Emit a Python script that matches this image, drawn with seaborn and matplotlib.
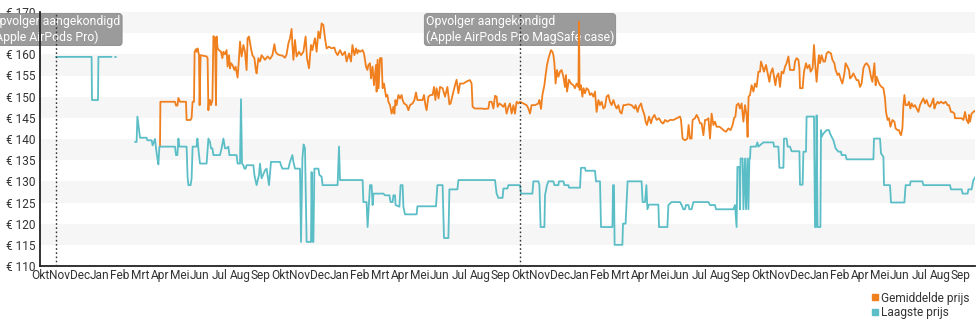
import numpy as np
import pandas as pd
import matplotlib
matplotlib.use("Agg")
import matplotlib.pyplot as plt
from matplotlib.lines import Line2D
import seaborn as sns

# Month tick labels (one tick per month, Okt .. Sep, four seasons)
maanden = (["Okt", "Nov", "Dec", "Jan", "Feb", "Mrt", "Apr", "Mei", "Jun", "Jul", "Aug", "Sep"] * 3
           + ["Okt", "Nov", "Dec", "Jan", "Feb", "Apr", "Mei", "Jun", "Jul", "Aug", "Sep"])
prijs_ticks = [110, 115, 120, 125, 130, 135, 140, 145, 150, 155, 160, 165, 170]

# Annotated events: (month position, label)
gebeurtenissen = [
    (0.8, "Opvolger aangekondigd\n(Apple AirPods Pro)"),
    (24.0, "Opvolger aangekondigd\n(Apple AirPods Pro MagSafe case)"),
]

# Laagste prijs, per continuous stretch: (month position, price in euro)
laagste_deel1 = [(0.80, 159.4), (2.58, 159.4), (2.60, 149.2), (2.90, 149.2), (2.92, 159.4), (3.58, 159.4)]
laagste_deel2 = [(3.75, 159.4), (3.80, 159.4)]
laagste_deel3 = [
    (4.75, 139.3), (4.83, 139.3), (4.87, 145.3), (4.92, 143.3), (5.00, 140.3), (5.33, 140.3),
    (5.37, 139.7), (5.58, 139.7), (5.63, 138.5), (5.75, 140.0), (5.80, 137.8), (5.87, 135.4),
    (5.92, 134.0), (5.97, 138.2), (6.75, 138.2), (6.80, 136.2), (6.87, 136.2), (6.92, 140.1),
    (6.97, 138.2), (7.33, 138.2), (7.38, 131.0), (7.42, 129.1), (7.53, 129.1), (7.58, 130.7),
    (7.63, 138.2), (7.83, 138.2), (7.87, 140.1), (7.95, 136.2), (8.00, 134.2), (8.33, 134.2),
    (8.42, 140.1), (8.50, 139.3), (8.55, 137.8), (8.62, 137.8), (8.67, 136.2), (9.00, 136.2),
    (9.08, 137.8), (9.17, 140.1), (9.25, 137.8), (9.33, 137.8), (9.42, 138.2), (9.47, 136.2),
    (9.83, 136.2), (9.88, 134.2), (10.00, 134.2), (10.05, 149.4), (10.10, 134.2), (10.17, 133.8),
    (10.22, 133.0), (10.28, 133.0), (10.33, 133.8), (10.67, 133.8), (10.72, 131.5), (10.83, 129.1),
    (10.95, 131.5), (11.00, 134.2), (11.08, 130.7), (11.25, 132.6), (11.33, 133.0), (11.45, 129.1),
    (11.55, 134.6), (12.00, 134.6), (12.05, 133.8), (12.12, 133.0), (12.42, 133.0), (12.50, 134.6),
    (12.62, 136.2), (12.67, 134.6), (12.75, 133.0), (13.00, 133.0), (13.05, 115.7), (13.12, 135.4),
    (13.18, 138.7), (13.25, 137.8), (13.33, 115.7), (13.55, 115.7), (13.58, 132.2), (13.62, 115.7),
    (13.67, 115.7), (13.72, 133.0), (13.92, 133.0), (13.97, 131.5), (14.08, 131.1), (14.13, 129.1),
    (14.88, 129.1), (14.95, 138.2), (15.00, 130.3), (16.13, 130.3), (16.17, 125.1), (16.33, 125.1),
    (16.38, 119.2), (16.45, 125.1), (16.50, 129.1), (16.58, 129.1), (16.63, 124.4), (16.67, 127.1),
    (17.17, 127.1), (17.25, 126.7), (17.47, 126.7), (17.53, 125.1), (17.63, 125.1), (17.67, 126.7),
    (17.75, 126.7), (17.78, 124.4), (17.97, 124.0), (18.03, 129.1), (18.13, 129.1), (18.17, 124.0),
    (18.25, 122.2), (18.83, 122.2), (18.87, 124.1), (19.80, 124.1), (19.87, 129.1), (20.13, 129.1),
    (20.20, 116.6), (20.42, 116.6), (20.47, 128.1), (20.87, 128.1), (20.92, 130.3), (22.75, 130.3),
    (22.83, 127.1), (22.92, 126.1), (23.13, 126.1), (23.17, 128.3), (23.37, 128.3), (23.42, 129.1),
    (24.00, 129.1), (24.05, 127.1), (24.62, 127.1), (24.67, 130.0), (24.92, 130.0), (24.97, 129.1),
    (25.03, 119.2), (25.22, 119.2), (25.25, 126.7), (25.30, 127.9), (25.35, 129.1), (25.42, 130.0),
    (25.67, 130.0), (25.72, 129.1), (25.92, 129.1), (25.95, 130.0), (26.17, 130.0), (26.22, 129.1),
    (26.42, 129.1), (26.45, 128.5), (27.00, 128.5), (27.05, 133.2), (27.25, 133.2), (27.28, 132.5),
    (27.75, 132.5), (27.80, 130.0), (28.00, 130.0), (28.05, 119.2), (28.62, 119.2), (28.65, 129.1),
    (28.70, 129.1), (28.73, 115.0), (29.12, 115.0), (29.15, 120.0), (29.28, 120.0), (29.38, 130.0),
    (30.08, 130.0), (30.13, 125.1), (30.25, 125.1), (30.32, 129.1), (30.37, 123.4), (30.45, 124.5),
    (30.92, 124.5), (30.95, 119.2), (31.37, 119.2), (31.42, 124.4), (31.58, 125.1), (32.00, 125.1),
    (32.08, 124.4), (32.17, 123.4), (32.25, 123.4), (32.30, 124.4), (32.42, 124.4), (32.47, 123.4),
    (32.58, 123.4), (32.63, 124.4), (32.67, 125.1), (33.42, 125.1), (33.50, 124.4), (33.75, 124.4),
    (33.80, 123.4), (34.67, 123.4), (34.75, 124.4), (34.83, 119.2), (34.87, 133.4), (34.97, 133.4),
    (35.00, 123.4), (35.03, 135.4), (35.13, 135.4), (35.17, 123.4), (35.25, 135.4), (35.30, 123.4),
    (35.37, 135.4), (35.42, 123.4), (35.47, 135.4), (35.50, 135.4), (35.53, 138.2), (35.80, 138.2),
    (35.87, 139.2), (35.92, 138.2), (36.17, 139.2), (36.67, 139.2), (36.70, 138.2), (36.92, 138.2),
    (36.97, 133.2), (37.17, 133.2), (37.20, 140.1), (37.33, 140.1), (37.38, 138.2), (37.50, 138.2),
    (37.58, 137.1), (37.97, 137.1), (38.00, 129.2), (38.13, 129.2), (38.17, 137.0), (38.30, 137.0),
    (38.33, 145.3), (38.70, 145.3), (38.75, 119.2), (38.80, 119.2), (38.83, 145.6), (38.88, 119.2),
    (39.02, 119.2), (39.05, 142.1), (39.08, 140.5), (39.17, 141.3), (39.33, 142.1), (39.45, 142.1),
    (39.50, 141.3), (39.67, 139.7), (39.78, 137.8), (39.92, 137.0), (40.05, 137.0), (40.08, 136.2),
    (40.28, 136.2), (40.33, 135.2), (41.67, 135.2), (41.70, 140.1), (42.00, 140.1), (42.05, 136.6),
    (42.17, 135.8), (42.20, 129.1), (42.50, 129.1), (42.55, 125.0), (43.22, 125.0), (43.28, 129.1),
    (43.50, 129.1), (43.53, 130.0), (44.12, 130.0), (44.17, 129.1), (45.50, 129.1), (45.55, 128.1),
    (46.08, 128.1), (46.13, 127.1), (46.38, 127.1), (46.42, 128.1), (46.58, 128.1), (46.67, 130.3),
    (46.78, 131.1),
]

# Gemiddelde prijs: (month position, price in euro)
gemiddelde = [
    (6.00, 138.2), (6.02, 148.8), (6.75, 148.8), (6.80, 147.9), (6.87, 147.9), (6.92, 149.7),
    (7.00, 148.8), (7.30, 148.8), (7.33, 144.5), (7.53, 144.5), (7.58, 145.0), (7.63, 148.8),
    (7.70, 148.8), (7.73, 160.6), (7.80, 161.2), (7.83, 160.6), (7.88, 161.4), (7.95, 159.8),
    (7.98, 148.0), (8.03, 159.8), (8.33, 159.5), (8.38, 159.1), (8.42, 146.8), (8.45, 149.2),
    (8.50, 149.2), (8.55, 148.0), (8.62, 149.2), (8.67, 164.3), (8.75, 163.8), (8.80, 148.0),
    (8.83, 164.2), (8.88, 161.4), (8.95, 161.0), (9.05, 160.6), (9.12, 159.1), (9.17, 160.6),
    (9.25, 160.0), (9.33, 161.0), (9.38, 157.1), (9.45, 159.8), (9.50, 156.7), (9.55, 157.9),
    (9.62, 157.5), (9.72, 156.3), (9.78, 157.1), (9.88, 154.5), (9.95, 159.1), (10.00, 163.0),
    (10.08, 159.5), (10.17, 162.2), (10.25, 160.6), (10.33, 156.3), (10.38, 163.8), (10.45, 164.2),
    (10.55, 161.4), (10.62, 159.8), (10.72, 159.1), (10.78, 156.7), (10.83, 155.5), (10.92, 159.1),
    (11.00, 158.3), (11.08, 159.8), (11.25, 158.7), (11.38, 159.5), (11.50, 158.9), (11.62, 159.8),
    (11.72, 162.4), (11.78, 160.6), (11.88, 160.0), (12.00, 159.8), (12.12, 159.7), (12.25, 159.2),
    (12.33, 160.0), (12.42, 162.6), (12.50, 163.8), (12.58, 166.0), (12.62, 162.2), (12.67, 158.7),
    (12.75, 163.4), (12.83, 159.5), (12.95, 160.6), (13.05, 159.8), (13.17, 160.6), (13.28, 164.2),
    (13.35, 159.1), (13.45, 156.7), (13.55, 162.2), (13.62, 161.0), (13.67, 162.2), (13.75, 163.8),
    (13.83, 160.6), (13.92, 165.4), (14.00, 163.8), (14.08, 167.3), (14.17, 166.9), (14.25, 163.8),
    (14.33, 161.4), (14.45, 161.8), (14.58, 161.4), (14.72, 161.6), (14.78, 160.6), (14.88, 159.8),
    (15.00, 161.0), (15.12, 159.8), (15.25, 160.6), (15.33, 158.3), (15.45, 160.2), (15.55, 158.3),
    (15.62, 162.2), (15.72, 159.8), (15.80, 161.4), (15.87, 160.2), (15.92, 161.0), (16.00, 160.6),
    (16.13, 161.0), (16.20, 160.2), (16.30, 157.1), (16.37, 156.3), (16.42, 157.5), (16.50, 157.9),
    (16.55, 154.3), (16.63, 157.1), (16.70, 152.7), (16.80, 157.5), (16.83, 151.2), (16.88, 158.7),
    (16.93, 152.0), (17.00, 159.1), (17.08, 159.1), (17.13, 152.0), (17.20, 153.1), (17.30, 150.0),
    (17.37, 150.4), (17.42, 148.8), (17.50, 148.0), (17.58, 146.0), (17.67, 147.6), (17.72, 146.0),
    (17.77, 149.2), (17.83, 148.0), (17.92, 150.4), (18.00, 149.6), (18.08, 150.4), (18.13, 149.2),
    (18.20, 148.4), (18.33, 148.0), (18.42, 146.8), (18.50, 148.0), (18.63, 148.4), (18.72, 149.2),
    (18.80, 151.0), (18.87, 149.2), (19.13, 149.2), (19.20, 150.4), (19.27, 148.0), (19.33, 146.8),
    (19.42, 150.0), (19.53, 150.4), (19.63, 150.4), (19.70, 152.3), (19.77, 149.2), (19.83, 152.0),
    (19.93, 149.6), (20.00, 152.3), (20.13, 152.0), (20.25, 150.0), (20.37, 152.3), (20.47, 148.2),
    (20.53, 148.4), (20.63, 150.4), (20.75, 152.7), (20.83, 154.0), (20.92, 150.8), (21.00, 153.1),
    (21.17, 153.1), (21.37, 153.7), (21.50, 153.9), (21.58, 153.1), (21.63, 147.6), (21.75, 147.2),
    (22.08, 147.2), (22.25, 147.1), (22.42, 147.2), (22.47, 148.8), (22.58, 148.8), (22.67, 147.2),
    (22.75, 150.2), (22.83, 150.0), (22.88, 147.6), (22.97, 148.4), (23.08, 148.0), (23.17, 147.6),
    (23.25, 148.4), (23.33, 146.0), (23.42, 147.6), (23.50, 148.4), (23.58, 146.0), (23.67, 148.0),
    (23.75, 146.0), (23.83, 148.8), (23.92, 148.4), (24.00, 148.8), (24.17, 148.4), (24.33, 148.0),
    (24.42, 147.2), (24.50, 146.0), (24.58, 148.0), (24.75, 148.0), (24.92, 148.4), (24.97, 149.2),
    (25.05, 147.1), (25.12, 150.4), (25.22, 152.7), (25.28, 155.1), (25.35, 157.5), (25.45, 159.5),
    (25.55, 161.0), (25.62, 160.6), (25.67, 159.8), (25.72, 157.9), (25.78, 153.1), (25.85, 156.3),
    (25.92, 154.7), (26.00, 155.9), (26.08, 156.3), (26.17, 154.7), (26.25, 152.3), (26.30, 155.1),
    (26.35, 151.2), (26.45, 154.0), (26.55, 153.1), (26.67, 152.7), (26.75, 152.0), (26.83, 153.1),
    (26.92, 152.3), (26.95, 167.7), (26.98, 151.6), (27.05, 152.7), (27.12, 150.0), (27.18, 152.0),
    (27.25, 150.8), (27.33, 152.0), (27.42, 151.6), (27.50, 150.4), (27.58, 150.8), (27.67, 150.0),
    (27.75, 151.2), (27.83, 146.4), (27.92, 149.2), (28.00, 148.0), (28.08, 148.8), (28.17, 147.2),
    (28.25, 147.6), (28.33, 150.0), (28.42, 150.4), (28.50, 148.8), (28.58, 148.0), (28.67, 149.2),
    (28.75, 148.0), (28.83, 147.2), (28.92, 148.0), (29.00, 146.4), (29.08, 146.0), (29.17, 148.0),
    (29.25, 148.0), (29.42, 148.2), (29.58, 148.0), (29.72, 147.2), (29.78, 148.0), (29.88, 146.4),
    (29.95, 147.6), (30.05, 148.4), (30.12, 147.1), (30.22, 145.7), (30.28, 144.1), (30.35, 143.3),
    (30.45, 145.3), (30.55, 143.7), (30.62, 144.9), (30.72, 145.7), (30.83, 144.5), (30.95, 144.9),
    (31.05, 144.1), (31.12, 143.7), (31.17, 143.7), (31.25, 144.5), (31.37, 144.1), (31.50, 144.5),
    (31.67, 144.5), (31.83, 144.9), (32.00, 145.3), (32.05, 144.5), (32.13, 140.1), (32.25, 139.7),
    (32.37, 140.1), (32.43, 143.3), (32.50, 140.1), (32.58, 140.1), (32.63, 144.5), (32.75, 144.9),
    (32.83, 145.7), (32.92, 144.9), (33.00, 143.7), (33.08, 143.7), (33.17, 140.9), (33.25, 144.5),
    (33.33, 144.5), (33.42, 144.9), (33.50, 140.1), (33.58, 146.0), (33.67, 143.3), (33.75, 144.1),
    (33.83, 142.9), (33.97, 142.9), (34.08, 142.5), (34.17, 142.1), (34.30, 141.7), (34.42, 142.5),
    (34.53, 142.1), (34.63, 143.3), (34.70, 144.9), (34.77, 145.3), (34.83, 148.0), (34.92, 148.4),
    (35.00, 147.2), (35.08, 148.4), (35.17, 144.1), (35.25, 148.0), (35.33, 145.7), (35.38, 140.5),
    (35.43, 150.0), (35.50, 150.4), (35.58, 152.7), (35.67, 151.2), (35.75, 153.1), (35.83, 152.3),
    (35.92, 155.9), (36.00, 155.9), (36.05, 158.3), (36.13, 157.1), (36.20, 155.9), (36.30, 157.5),
    (36.37, 155.9), (36.47, 153.5), (36.53, 155.5), (36.63, 156.7), (36.70, 154.7), (36.77, 152.7),
    (36.83, 154.7), (36.92, 155.5), (37.00, 152.3), (37.08, 155.9), (37.17, 155.5), (37.25, 157.1),
    (37.33, 157.9), (37.42, 159.5), (37.50, 156.3), (37.70, 156.3), (37.75, 158.3), (37.83, 159.1),
    (37.92, 158.7), (37.97, 156.7), (38.00, 152.0), (38.13, 152.0), (38.20, 155.9), (38.30, 157.9),
    (38.37, 156.7), (38.47, 157.5), (38.53, 155.9), (38.63, 156.7), (38.70, 162.2), (38.75, 158.3),
    (38.83, 153.5), (38.92, 158.7), (38.95, 159.8), (39.00, 157.9), (39.08, 159.8), (39.17, 158.3),
    (39.25, 158.3), (39.33, 160.2), (39.42, 160.6), (39.55, 160.2), (39.62, 158.7), (39.72, 157.9),
    (39.78, 156.3), (39.88, 155.1), (39.95, 155.5), (40.05, 153.9), (40.12, 153.1), (40.22, 155.5),
    (40.28, 157.9), (40.37, 157.1), (40.45, 156.3), (40.50, 154.3), (40.58, 154.7), (40.67, 155.5),
    (40.75, 154.7), (40.83, 153.9), (40.92, 153.9), (41.00, 152.3), (41.08, 153.1), (41.17, 156.7),
    (41.25, 157.6), (41.33, 157.9), (41.45, 157.1), (41.55, 154.7), (41.62, 153.5), (41.72, 157.9),
    (41.78, 152.7), (41.83, 154.7), (41.92, 153.5), (42.00, 152.7), (42.08, 152.3), (42.17, 152.0),
    (42.25, 149.6), (42.30, 146.4), (42.38, 144.5), (42.45, 144.9), (42.52, 142.9), (42.62, 144.5),
    (42.72, 144.1), (42.78, 142.5), (42.88, 142.1), (42.95, 142.1), (43.00, 141.3), (43.05, 140.9),
    (43.12, 142.5), (43.17, 148.0), (43.22, 150.4), (43.28, 148.0), (43.38, 148.0), (43.45, 148.8),
    (43.52, 147.2), (43.58, 148.4), (43.67, 147.6), (43.75, 148.0), (43.83, 147.2), (43.92, 146.4),
    (44.00, 148.0), (44.08, 148.8), (44.17, 149.6), (44.25, 148.4), (44.33, 149.2), (44.42, 148.0),
    (44.50, 147.6), (44.58, 148.4), (44.67, 149.6), (44.72, 147.2), (44.78, 148.0), (44.88, 148.8),
    (44.95, 148.4), (45.05, 148.8), (45.17, 148.4), (45.28, 148.8), (45.38, 148.0), (45.45, 148.0),
    (45.55, 146.4), (45.62, 146.4), (45.72, 146.0), (45.75, 144.9), (45.88, 144.9), (46.08, 144.9),
    (46.17, 144.5), (46.25, 146.4), (46.33, 144.5), (46.42, 143.7), (46.45, 145.7), (46.50, 144.1),
    (46.58, 146.0), (46.67, 146.4), (46.78, 146.8),
]

KLEUR_GEM = "#f07f1e"
KLEUR_LAAG = "#5bbec7"


def frame(punten, reeks, deel):
    df = pd.DataFrame(punten, columns=["maand", "prijs"])
    df["reeks"] = reeks
    df["deel"] = deel
    return df


data = pd.concat([
    frame(gemiddelde, "Gemiddelde prijs", "g1"),
    frame(laagste_deel1, "Laagste prijs", "l1"),
    frame(laagste_deel2, "Laagste prijs", "l2"),
    frame(laagste_deel3, "Laagste prijs", "l3"),
], ignore_index=True)

sns.set_style("white")
plt.rcParams["font.family"] = ["Roboto", "DejaVu Sans"]

fig = plt.figure(figsize=(9.8, 3.25), dpi=100)
ax = fig.add_axes([40 / 980, 59 / 325, 935 / 980, 254 / 325])

# alternating light bands
for lo in range(115, 170, 10):
    ax.axhspan(lo, lo + 5, color="#f6f6f6", zorder=0, lw=0)

sns.lineplot(
    data=data, x="maand", y="prijs", hue="reeks", units="deel", estimator=None,
    sort=False, palette={"Gemiddelde prijs": KLEUR_GEM, "Laagste prijs": KLEUR_LAAG},
    linewidth=1.3, legend=False, ax=ax, zorder=3,
)

for pos, tekst in gebeurtenissen:
    ax.axvline(pos, color="#333333", linestyle=(0, (1.2, 1.8)), lw=1.0, zorder=4)
    ax.text(pos, 165.85, tekst, ha="center", va="center", multialignment="left",
            color="white", fontsize=8.8, zorder=2, clip_on=False, linespacing=1.25,
            bbox=dict(boxstyle="round,pad=0.12,rounding_size=0.25", fc="#9b9b9b",
                      ec="#8a8a8a", lw=0.6))

ax.set_xlim(0, 46.75)
ax.set_ylim(110, 170)
ax.set_xticks(range(len(maanden)))
ax.set_xticklabels(maanden)
ax.set_yticks(prijs_ticks)
ax.set_yticklabels([f"€ {p}" for p in prijs_ticks])
ax.set_xlabel("")
ax.set_ylabel("")

for s in ["top", "right"]:
    ax.spines[s].set_visible(False)
for s in ["left", "bottom"]:
    ax.spines[s].set_color("#222222")
    ax.spines[s].set_linewidth(1.3)

ax.tick_params(axis="x", direction="in", length=3, width=0.8, color="#444444",
               labelsize=8.6, labelcolor="#333333", pad=2)
ax.tick_params(axis="y", direction="inout", length=5, width=0.8, color="#444444",
               labelsize=8.6, labelcolor="#333333", pad=1)

handles = [
    Line2D([], [], marker="s", linestyle="none", color=KLEUR_GEM, markersize=5),
    Line2D([], [], marker="s", linestyle="none", color=KLEUR_LAAG, markersize=5),
]
fig.legend(handles, ["Gemiddelde prijs", "Laagste prijs"], loc="upper right",
           bbox_to_anchor=(0.997, 0.125), frameon=False, fontsize=8.6,
           handlelength=0.5, handletextpad=0.25, labelspacing=0.1, borderpad=0.1,
           labelcolor="#333333")

fig.savefig("out.png", dpi=100, facecolor="white")
